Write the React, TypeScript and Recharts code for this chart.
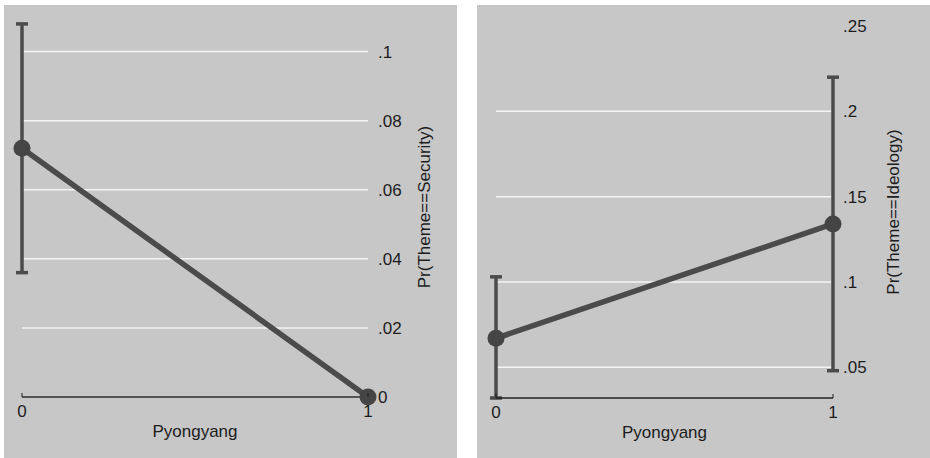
import React from 'react';
import { LineChart, Line, XAxis, YAxis, ErrorBar, ReferenceLine } from 'recharts';

const pyongyang = [0, 1];
const xTicks = [0, 1];

const securityProb = [0.072, 0];
const securityLow = [0.036, 0];
const securityHigh = [0.108, 0];
const securityTicks = [0, 0.02, 0.04, 0.06, 0.08, 0.1];
const securityGrid = [0, 0.02, 0.04, 0.06, 0.08, 0.1];

const ideologyProb = [0.067, 0.134];
const ideologyLow = [0.032, 0.048];
const ideologyHigh = [0.103, 0.22];
const ideologyTicks = [0.05, 0.1, 0.15, 0.2, 0.25];
const ideologyGrid = [0.05, 0.1, 0.15, 0.2];

const FONT = '"Liberation Sans", Arial, sans-serif';
const BG = '#c7c7c7';
const INK = '#4b4b4b';
const TEXT = '#1c1c1c';

const fmt = (v: number) => (v === 0 ? '0' : String(v).replace(/^0/, ''));

const XTick = (props: any) => {
  const { x, y, payload } = props;
  return (
    <g>
      <line x1={x} y1={y} x2={x} y2={y - 4} stroke={TEXT} strokeWidth={1} />
      <text x={x} y={y + 20} textAnchor="middle" fontSize={17} fontFamily={FONT} fill={TEXT}>
        {payload.value}
      </text>
    </g>
  );
};

interface PanelProps {
  left: number;
  probs: number[];
  lows: number[];
  highs: number[];
  domain: [number, number];
  ticks: number[];
  grid: number[];
  marginTop: number;
  marginLeft: number;
  yAxisWidth: number;
  xAxisHeight: number;
  yTitle: string;
  yTitleOffset: number;
}

function Panel({
  left,
  probs,
  lows,
  highs,
  domain,
  ticks,
  grid,
  marginTop,
  marginLeft,
  yAxisWidth,
  xAxisHeight,
  yTitle,
  yTitleOffset,
}: PanelProps) {
  const data = pyongyang.map((p, i) => ({
    x: p,
    y: probs[i],
    err: [probs[i] - lows[i], highs[i] - probs[i]],
  }));

  return (
    <div style={{ position: 'absolute', left, top: 5, width: 453, height: 453, background: BG }}>
      <LineChart
        width={453}
        height={453}
        data={data}
        margin={{ top: marginTop, right: 0, left: marginLeft, bottom: 0 }}
      >
        {grid.map((g) => (
          <ReferenceLine key={g} y={g} stroke="#f4f4f4" strokeWidth={1.5} />
        ))}
        <XAxis
          dataKey="x"
          type="number"
          domain={[0, 1]}
          ticks={xTicks}
          height={xAxisHeight}
          axisLine={{ stroke: '#222', strokeWidth: 1.5 }}
          tickLine={false}
          tickSize={0}
          tickMargin={0}
          tick={<XTick />}
          label={{
            content: (p: any) => {
              const vb = p.viewBox;
              return (
                <text
                  x={vb.x + vb.width / 2}
                  y={vb.y + 40}
                  textAnchor="middle"
                  fontSize={17}
                  fontFamily={FONT}
                  fill={TEXT}
                >
                  Pyongyang
                </text>
              );
            },
          }}
        />
        <YAxis
          orientation="right"
          type="number"
          domain={domain}
          allowDataOverflow
          ticks={ticks}
          width={yAxisWidth}
          axisLine={false}
          tickLine={false}
          tickSize={0}
          tickMargin={10}
          tickFormatter={fmt}
          tick={{ fontSize: 17, fontFamily: FONT, fill: TEXT }}
          label={{
            content: (p: any) => {
              const vb = p.viewBox;
              const cx = vb.x + yTitleOffset;
              const cy = vb.y + vb.height / 2;
              return (
                <text
                  x={cx}
                  y={cy}
                  transform={`rotate(-90 ${cx} ${cy})`}
                  textAnchor="middle"
                  dominantBaseline="central"
                  fontSize={17}
                  fontFamily={FONT}
                  fill={TEXT}
                >
                  {yTitle}
                </text>
              );
            },
          }}
        />
        <Line
          dataKey="y"
          stroke={INK}
          strokeWidth={5.5}
          dot={{ r: 8.5, fill: '#454545', stroke: 'none', clipDot: false }}
          activeDot={false}
          isAnimationActive={false}
        >
          <ErrorBar
            dataKey={(d: any) => d.err}
            direction="y"
            width={6}
            stroke={INK}
            strokeWidth={3.5}
            isAnimationActive={false}
          />
        </Line>
      </LineChart>
    </div>
  );
}

export default function App() {
  return (
    <div style={{ position: 'absolute', left: 0, top: 0, width: 930, height: 458, background: '#fff' }}>
      <Panel
        left={4}
        probs={securityProb}
        lows={securityLow}
        highs={securityHigh}
        domain={[0, 0.11]}
        ticks={securityTicks}
        grid={securityGrid}
        marginTop={12}
        marginLeft={18}
        yAxisWidth={89}
        xAxisHeight={61}
        yTitle="Pr(Theme==Security)"
        yTitleOffset={56}
      />
      <Panel
        left={477}
        probs={ideologyProb}
        lows={ideologyLow}
        highs={ideologyHigh}
        domain={[0.032, 0.25]}
        ticks={ideologyTicks}
        grid={ideologyGrid}
        marginTop={21}
        marginLeft={19}
        yAxisWidth={97}
        xAxisHeight={60}
        yTitle="Pr(Theme==Ideology)"
        yTitleOffset={60}
      />
    </div>
  );
}
